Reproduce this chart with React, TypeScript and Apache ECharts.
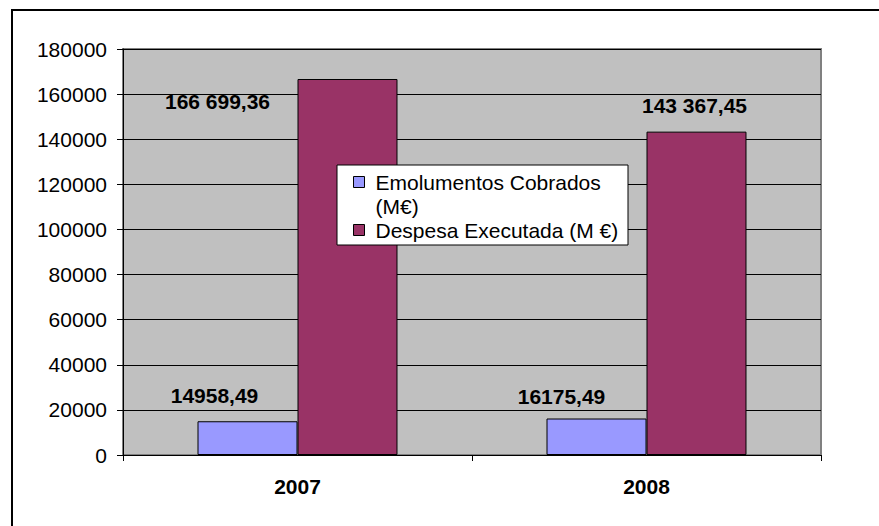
import React, { useEffect, useRef } from "react";
import * as echarts from "echarts";

const categories = ["2007", "2008"];
const emolumentos = [14958.49, 16175.49];
const despesa = [166699.36, 143367.45];
const emolumentosLabels = ["14958,49", "16175,49"];
const despesaLabels = ["166 699,36", "143 367,45"];
const yMin = 0;
const yMax = 180000;
const yInterval = 20000;

const S1 = "Emolumentos Cobrados (M€)";
const S2 = "Despesa Executada (M €)";

// label offsets (layout only)
const emolOffsets = [[-33, -10], [-35, -7]];
const despOffsets = [[-130, 38], [-2, -11]];

const FONT = "'Liberation Sans', Arial, sans-serif";

export default function App() {
  const ref = useRef<HTMLDivElement>(null);
  useEffect(() => {
    if (!ref.current) return;
    const chart = echarts.init(ref.current, undefined, { renderer: "svg" });
    const labelStyle = {
      show: true,
      position: "top",
      fontFamily: FONT,
      fontSize: 21,
      fontWeight: "bold",
      color: "#000",
    };
    chart.setOption({
      animation: false,
      backgroundColor: "#fff",
      textStyle: { fontFamily: FONT },
      grid: {
        left: 123,
        right: 58,
        top: 49,
        bottom: 71,
        show: true,
        backgroundColor: "#C0C0C0",
        borderColor: "#808080",
        borderWidth: 2,
      },
      xAxis: {
        type: "category",
        data: categories,
        axisLine: { show: true, lineStyle: { color: "#000", width: 1 } },
        axisTick: { show: true, length: 6, lineStyle: { color: "#000" } },
        axisLabel: {
          margin: 21,
          fontFamily: FONT,
          fontSize: 21,
          fontWeight: "bold",
          color: "#000",
        },
        splitLine: { show: false },
      },
      yAxis: {
        type: "value",
        min: yMin,
        max: yMax,
        interval: yInterval,
        axisLine: { show: true, lineStyle: { color: "#000", width: 1 } },
        axisTick: { show: true, length: 6, lineStyle: { color: "#000" } },
        axisLabel: {
          margin: 16,
          fontFamily: FONT,
          fontSize: 21,
          color: "#000",
          formatter: (v: number) => String(v),
        },
        splitLine: { show: true, lineStyle: { color: "#000", width: 1 } },
      },
      legend: {
        orient: "vertical",
        left: 353,
        top: 146,
        padding: 0,
        itemGap: 0,
        itemWidth: 11,
        itemHeight: 11,
        icon: "rect",
        z: 10,
        itemStyle: { borderColor: "#000", borderWidth: 1 },
        textStyle: {
          fontFamily: FONT,
          fontSize: 21,
          lineHeight: 24,
          color: "#000",
          padding: [0, 0, 0, 6],
          backgroundColor: "rgba(0,0,0,0)",
        },
        formatter: (name: string) =>
          name === S1 ? "\nEmolumentos Cobrados\n(M€)" : name,
        data: [S1, S2],
      },
      graphic: [
        {
          type: "rect",
          z: 9,
          shape: { x: 337, y: 165, width: 291, height: 80 },
          style: { fill: "#fff", stroke: "#000", lineWidth: 1 },
        },
        {
          type: "polyline",
          z: 9,
          shape: { points: [[12, 530], [12, 10], [885, 10]] },
          style: { fill: null, stroke: "#000", lineWidth: 2 },
        },
      ],
      series: [
        {
          name: S1,
          type: "bar",
          barGap: "0%",
          barCategoryGap: "42.7%",
          itemStyle: { color: "#9999FF", borderColor: "#000", borderWidth: 1 },
          data: emolumentos.map((v, i) => ({
            value: v,
            label: { ...labelStyle, offset: emolOffsets[i], formatter: emolumentosLabels[i] },
          })),
        },
        {
          name: S2,
          type: "bar",
          barGap: "0%",
          barCategoryGap: "42.7%",
          itemStyle: { color: "#993366", borderColor: "#000", borderWidth: 1 },
          data: despesa.map((v, i) => ({
            value: v,
            label: { ...labelStyle, offset: despOffsets[i], formatter: despesaLabels[i] },
          })),
        },
      ],
    });
    return () => chart.dispose();
  }, []);
  return (
    <div
      ref={ref}
      style={{ position: "absolute", left: 0, top: 0, width: 879, height: 526 }}
    />
  );
}
